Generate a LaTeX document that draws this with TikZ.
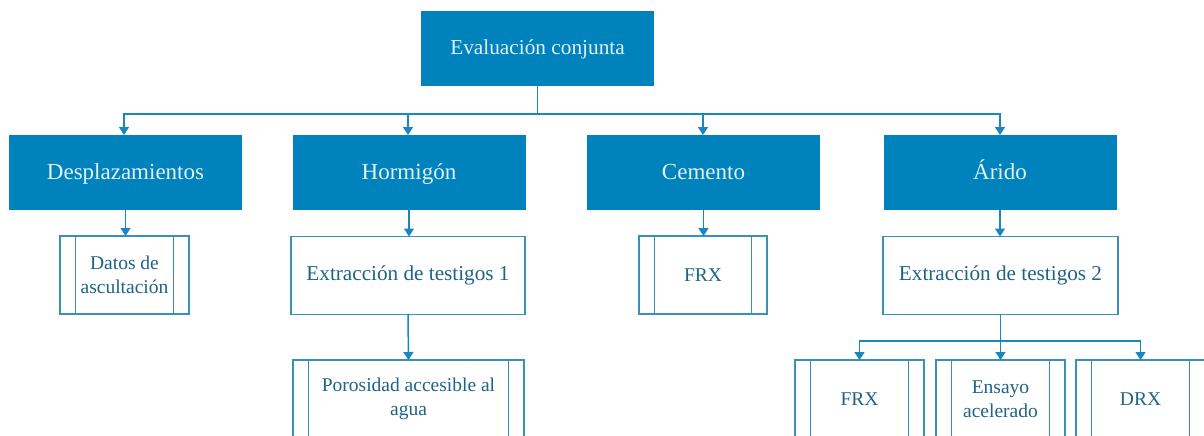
\documentclass[tikz,border=0pt]{standalone}
\usepackage{fontspec}
\setmainfont{Liberation Serif}
\usetikzlibrary{arrows.meta}
\definecolor{boxblue}{HTML}{0083BC}
\definecolor{lineblue}{HTML}{1787BF}
\definecolor{edgeblue}{HTML}{3A90B8}
\definecolor{txtdark}{HTML}{1F6385}
\definecolor{txtlight}{HTML}{E3F1F8}
\tikzset{
  topbox/.style={fill=boxblue, draw=none, text=txtlight, minimum width=233pt, minimum height=75pt, inner sep=0pt, outer sep=0pt, text height=18pt, text depth=5pt, font=\fontsize{21.3}{24}\selectfont},
  catbox/.style={fill=boxblue, draw=none, text=txtlight, minimum width=233pt, minimum height=75pt, inner sep=0pt, outer sep=0pt, text height=19pt, text depth=5pt, font=\fontsize{23}{26}\selectfont},
  plainbox/.style={draw=edgeblue, line width=1.3pt, fill=white, text=txtdark, minimum height=78pt, inner sep=0pt, outer sep=0pt, font=\fontsize{21.2}{24}\selectfont},
  subbox/.style={draw=edgeblue, line width=1.3pt, fill=white, text=txtdark, minimum height=78pt, inner sep=0pt, outer sep=0pt, align=center, font=\fontsize{19.5}{24}\selectfont},
  conn/.style={draw=lineblue, line width=1.5pt, -{Triangle[width=10pt,length=8pt]}},
  plainconn/.style={draw=lineblue, line width=1.5pt}
}
\newcommand{\subbars}[1]{%
  \draw[edgeblue, line width=1.3pt] ([xshift=15.5pt]#1.north west) -- ([xshift=15.5pt]#1.south west);
  \draw[edgeblue, line width=1.3pt] ([xshift=-15.5pt]#1.north east) -- ([xshift=-15.5pt]#1.south east);}
\begin{document}
\begin{tikzpicture}[x=1pt,y=-1pt]
\useasboundingbox (0,0) rectangle (1204,436);
\clip (0,0) rectangle (1204,436);
% top
\node[topbox] (top) at (537.5,48.5) {Evaluación conjunta};
% categories
\node[catbox] (desp) at (125.5,172.5) {Desplazamientos};
\node[catbox] (horm) at (409,172.5) {Hormigón};
\node[catbox] (cem) at (703.5,172.5) {Cemento};
\node[catbox] (arido) at (1000,172.5) {Árido};
% level 3
\node[subbox, minimum width=129pt] (datos) at (124.5,275) {Datos de\\ascultación};
\subbars{datos}
\node[plainbox, minimum width=234pt] (ext1) at (408,275.5) {Extracción de testigos 1};
\node[subbox, minimum width=128pt] (frx1) at (703,275) {FRX};
\subbars{frx1}
\node[plainbox, minimum width=235pt] (ext2) at (1000.5,275.5) {Extracción de testigos 2};
% level 4
\node[subbox, minimum width=231pt] (poro) at (408.5,399) {Porosidad accesible al\\agua};
\subbars{poro}
\node[subbox, minimum width=129pt] (frx2) at (859.5,399) {FRX};
\subbars{frx2}
\node[subbox, minimum width=129pt] (ensayo) at (1000.5,399) {Ensayo\\acelerado};
\subbars{ensayo}
\node[subbox, minimum width=129pt] (drx) at (1140.5,399) {DRX};
\subbars{drx}
% connectors
\coordinate (bus1) at (0,114);
\coordinate (bus2) at (0,341);
\draw[plainconn] (top.south) -- (top.south |- bus1);
\draw[conn] (top.south |- bus1) -| ([xshift=-1.5pt]desp.north);
\draw[conn] (top.south |- bus1) -| ([xshift=-1pt]horm.north);
\draw[conn] (top.south |- bus1) -| ([xshift=-0.5pt]cem.north);
\draw[conn] (top.south |- bus1) -| (arido.north);
\draw[conn] (desp.south) -- (desp.south |- datos.north);
\draw[conn] (horm.south) -- (horm.south |- ext1.north);
\draw[conn] (cem.south) -- (cem.south |- frx1.north);
\draw[conn] (arido.south) -- (arido.south |- ext2.north);
\draw[conn] (ext1.south) -- (poro.north);
\draw[plainconn] (ext2.south) -- (ext2.south |- bus2);
\draw[conn] (ext2.south |- bus2) -| (frx2.north);
\draw[conn] (ext2.south |- bus2) -| (ensayo.north);
\draw[conn] (ext2.south |- bus2) -| (drx.north);
\end{tikzpicture}
\end{document}
